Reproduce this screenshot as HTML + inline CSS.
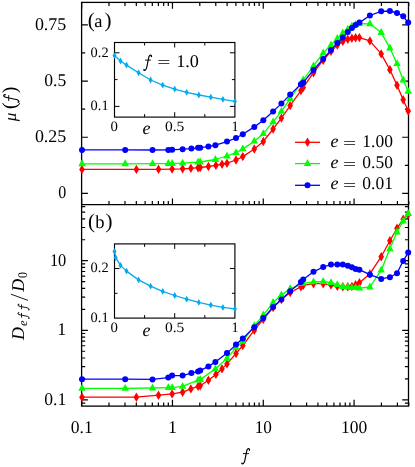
<!DOCTYPE html>
<html><head><meta charset="utf-8"><title>chart</title><style>html,body{margin:0;padding:0;background:#fff}svg{display:block;will-change:transform}svg text{text-rendering:geometricPrecision}</style></head><body>
<svg width="415" height="467" viewBox="0 0 415 467" font-family="'Liberation Serif', serif" fill="#000">
<rect width="415" height="467" fill="#fff"/>
<g>
<rect x="81.60" y="2.40" width="326.90" height="403.70" fill="none" stroke="#000" stroke-width="1.3"/>
<path d="M81.60 204.70L408.50 204.70" stroke="#000" stroke-width="1.30" fill="none"/>
<path d="M81.65 2.40v6.3M81.65 204.70v-6.3M81.65 406.10v-6.3M108.99 2.40v3.6M108.99 204.70v-3.6M108.99 406.10v-3.6M124.98 2.40v3.6M124.98 204.70v-3.6M124.98 406.10v-3.6M136.32 2.40v3.6M136.32 204.70v-3.6M136.32 406.10v-3.6M145.12 2.40v3.6M145.12 204.70v-3.6M145.12 406.10v-3.6M152.31 2.40v3.6M152.31 204.70v-3.6M152.31 406.10v-3.6M158.39 2.40v3.6M158.39 204.70v-3.6M158.39 406.10v-3.6M163.66 2.40v3.6M163.66 204.70v-3.6M163.66 406.10v-3.6M168.30 2.40v3.6M168.30 204.70v-3.6M168.30 406.10v-3.6M172.46 2.40v6.3M172.46 204.70v-6.3M172.46 406.10v-6.3M199.80 2.40v3.6M199.80 204.70v-3.6M199.80 406.10v-3.6M215.79 2.40v3.6M215.79 204.70v-3.6M215.79 406.10v-3.6M227.13 2.40v3.6M227.13 204.70v-3.6M227.13 406.10v-3.6M235.93 2.40v3.6M235.93 204.70v-3.6M235.93 406.10v-3.6M243.12 2.40v3.6M243.12 204.70v-3.6M243.12 406.10v-3.6M249.20 2.40v3.6M249.20 204.70v-3.6M249.20 406.10v-3.6M254.47 2.40v3.6M254.47 204.70v-3.6M254.47 406.10v-3.6M259.11 2.40v3.6M259.11 204.70v-3.6M259.11 406.10v-3.6M263.27 2.40v6.3M263.27 204.70v-6.3M263.27 406.10v-6.3M290.61 2.40v3.6M290.61 204.70v-3.6M290.61 406.10v-3.6M306.60 2.40v3.6M306.60 204.70v-3.6M306.60 406.10v-3.6M317.94 2.40v3.6M317.94 204.70v-3.6M317.94 406.10v-3.6M326.74 2.40v3.6M326.74 204.70v-3.6M326.74 406.10v-3.6M333.93 2.40v3.6M333.93 204.70v-3.6M333.93 406.10v-3.6M340.01 2.40v3.6M340.01 204.70v-3.6M340.01 406.10v-3.6M345.28 2.40v3.6M345.28 204.70v-3.6M345.28 406.10v-3.6M349.92 2.40v3.6M349.92 204.70v-3.6M349.92 406.10v-3.6M354.08 2.40v6.3M354.08 204.70v-6.3M354.08 406.10v-6.3M381.42 2.40v3.6M381.42 204.70v-3.6M381.42 406.10v-3.6M397.41 2.40v3.6M397.41 204.70v-3.6M397.41 406.10v-3.6M408.75 2.40v3.6M408.75 204.70v-3.6M408.75 406.10v-3.6M81.60 193.40h6.3M408.50 193.40h-6.3M81.60 165.31h3.6M408.50 165.31h-3.6M81.60 137.23h6.3M408.50 137.23h-6.3M81.60 109.14h3.6M408.50 109.14h-3.6M81.60 81.05h6.3M408.50 81.05h-6.3M81.60 52.96h3.6M408.50 52.96h-3.6M81.60 24.88h6.3M408.50 24.88h-6.3M81.60 403.08h3.6M408.50 403.08h-3.6M81.60 399.90h6.3M408.50 399.90h-6.3M81.60 378.95h3.6M408.50 378.95h-3.6M81.60 366.69h3.6M408.50 366.69h-3.6M81.60 358.00h3.6M408.50 358.00h-3.6M81.60 351.25h3.6M408.50 351.25h-3.6M81.60 345.74h3.6M408.50 345.74h-3.6M81.60 341.08h3.6M408.50 341.08h-3.6M81.60 337.04h3.6M408.50 337.04h-3.6M81.60 333.48h3.6M408.50 333.48h-3.6M81.60 330.30h6.3M408.50 330.30h-6.3M81.60 309.35h3.6M408.50 309.35h-3.6M81.60 297.09h3.6M408.50 297.09h-3.6M81.60 288.40h3.6M408.50 288.40h-3.6M81.60 281.65h3.6M408.50 281.65h-3.6M81.60 276.14h3.6M408.50 276.14h-3.6M81.60 271.48h3.6M408.50 271.48h-3.6M81.60 267.44h3.6M408.50 267.44h-3.6M81.60 263.88h3.6M408.50 263.88h-3.6M81.60 260.70h6.3M408.50 260.70h-6.3M81.60 239.75h3.6M408.50 239.75h-3.6M81.60 227.49h3.6M408.50 227.49h-3.6M81.60 218.80h3.6M408.50 218.80h-3.6M81.60 212.05h3.6M408.50 212.05h-3.6M81.60 206.54h3.6M408.50 206.54h-3.6" stroke="#000" stroke-width="1.2" fill="none"/>
</g>
<rect x="114.50" y="42.50" width="120.40" height="74.60" fill="#fff" stroke="#000" stroke-width="1.15"/>
<path d="M144.60 42.50v3.0M144.60 117.10v-3.0M174.70 42.50v5.0M174.70 117.10v-5.0M204.80 42.50v3.0M204.80 117.10v-3.0M114.50 52.80h5.0M234.90 52.80h-5.0M114.50 79.60h3.0M234.90 79.60h-3.0M114.50 106.40h5.0M234.90 106.40h-5.0" stroke="#000" stroke-width="1" fill="none"/>
<polyline points="114.5,55.6 120.5,61.0 126.5,65.1 138.6,72.8 150.6,80.0 162.7,85.1 174.7,89.1 186.7,92.3 198.8,95.0 210.8,97.2 222.9,99.3 234.9,101.4" fill="none" stroke="#06a9ec" stroke-width="1.30" stroke-linejoin="round"/>
<path d="M114.5 52.2l2.0 3.4l-2.0 3.4l-2.0 -3.4zM120.5 57.6l2.0 3.4l-2.0 3.4l-2.0 -3.4zM126.5 61.7l2.0 3.4l-2.0 3.4l-2.0 -3.4zM138.6 69.4l2.0 3.4l-2.0 3.4l-2.0 -3.4zM150.6 76.6l2.0 3.4l-2.0 3.4l-2.0 -3.4zM162.7 81.7l2.0 3.4l-2.0 3.4l-2.0 -3.4zM174.7 85.7l2.0 3.4l-2.0 3.4l-2.0 -3.4zM186.7 88.9l2.0 3.4l-2.0 3.4l-2.0 -3.4zM198.8 91.6l2.0 3.4l-2.0 3.4l-2.0 -3.4zM210.8 93.8l2.0 3.4l-2.0 3.4l-2.0 -3.4zM222.9 95.9l2.0 3.4l-2.0 3.4l-2.0 -3.4zM234.9 98.0l2.0 3.4l-2.0 3.4l-2.0 -3.4z" fill="#06a9ec"/>
<rect x="114.50" y="243.90" width="120.40" height="74.20" fill="#fff" stroke="#000" stroke-width="1.15"/>
<path d="M144.60 243.90v3.0M144.60 318.10v-3.0M174.70 243.90v5.0M174.70 318.10v-5.0M204.80 243.90v3.0M204.80 318.10v-3.0M114.50 268.50h5.0M234.90 268.50h-5.0M114.50 293.30h3.0M234.90 293.30h-3.0" stroke="#000" stroke-width="1" fill="none"/>
<polyline points="114.5,251.4 115.7,257.7 120.5,265.4 126.5,271.1 138.6,279.9 150.6,286.2 162.7,291.4 174.7,295.5 186.7,299.2 198.8,302.4 210.8,305.1 222.9,307.4 234.9,308.9" fill="none" stroke="#06a9ec" stroke-width="1.30" stroke-linejoin="round"/>
<path d="M114.5 248.0l2.0 3.4l-2.0 3.4l-2.0 -3.4zM115.7 254.3l2.0 3.4l-2.0 3.4l-2.0 -3.4zM120.5 262.0l2.0 3.4l-2.0 3.4l-2.0 -3.4zM126.5 267.7l2.0 3.4l-2.0 3.4l-2.0 -3.4zM138.6 276.5l2.0 3.4l-2.0 3.4l-2.0 -3.4zM150.6 282.8l2.0 3.4l-2.0 3.4l-2.0 -3.4zM162.7 288.0l2.0 3.4l-2.0 3.4l-2.0 -3.4zM174.7 292.1l2.0 3.4l-2.0 3.4l-2.0 -3.4zM186.7 295.8l2.0 3.4l-2.0 3.4l-2.0 -3.4zM198.8 299.0l2.0 3.4l-2.0 3.4l-2.0 -3.4zM210.8 301.7l2.0 3.4l-2.0 3.4l-2.0 -3.4zM222.9 304.0l2.0 3.4l-2.0 3.4l-2.0 -3.4zM234.9 305.5l2.0 3.4l-2.0 3.4l-2.0 -3.4z" fill="#06a9ec"/>
<polyline points="82.0,169.4 136.4,169.4 158.5,169.3 172.1,169.1 182.6,168.8 190.9,168.3 198.1,167.7 200.2,167.5 208.4,166.5 215.9,165.4 222.0,164.3 227.0,163.2 236.0,160.0 242.8,156.6 254.3,149.0 263.3,141.5 273.1,129.0 281.4,118.1 290.2,105.6 300.9,90.6 303.2,87.6 313.5,72.7 323.2,60.2 331.0,51.4 337.3,45.1 342.8,41.4 347.8,39.3 351.9,38.3 355.6,37.8 359.4,37.6 369.9,40.9 381.2,53.9 389.9,69.7 397.0,85.2 403.2,99.7 408.2,110.9" fill="none" stroke="#ff0000" stroke-width="1.30" stroke-linejoin="round"/>
<path d="M82.0 164.7l2.8 4.7l-2.8 4.7l-2.8 -4.7zM136.4 164.7l2.8 4.7l-2.8 4.7l-2.8 -4.7zM158.5 164.6l2.8 4.7l-2.8 4.7l-2.8 -4.7zM172.1 164.4l2.8 4.7l-2.8 4.7l-2.8 -4.7zM182.6 164.1l2.8 4.7l-2.8 4.7l-2.8 -4.7zM190.9 163.6l2.8 4.7l-2.8 4.7l-2.8 -4.7zM198.1 163.0l2.8 4.7l-2.8 4.7l-2.8 -4.7zM200.2 162.8l2.8 4.7l-2.8 4.7l-2.8 -4.7zM208.4 161.8l2.8 4.7l-2.8 4.7l-2.8 -4.7zM215.9 160.7l2.8 4.7l-2.8 4.7l-2.8 -4.7zM222.0 159.6l2.8 4.7l-2.8 4.7l-2.8 -4.7zM227.0 158.5l2.8 4.7l-2.8 4.7l-2.8 -4.7zM236.0 155.3l2.8 4.7l-2.8 4.7l-2.8 -4.7zM242.8 151.9l2.8 4.7l-2.8 4.7l-2.8 -4.7zM254.3 144.3l2.8 4.7l-2.8 4.7l-2.8 -4.7zM263.3 136.8l2.8 4.7l-2.8 4.7l-2.8 -4.7zM273.1 124.3l2.8 4.7l-2.8 4.7l-2.8 -4.7zM281.4 113.4l2.8 4.7l-2.8 4.7l-2.8 -4.7zM290.2 100.9l2.8 4.7l-2.8 4.7l-2.8 -4.7zM300.9 85.9l2.8 4.7l-2.8 4.7l-2.8 -4.7zM303.2 82.9l2.8 4.7l-2.8 4.7l-2.8 -4.7zM313.5 68.0l2.8 4.7l-2.8 4.7l-2.8 -4.7zM323.2 55.5l2.8 4.7l-2.8 4.7l-2.8 -4.7zM331.0 46.7l2.8 4.7l-2.8 4.7l-2.8 -4.7zM337.3 40.4l2.8 4.7l-2.8 4.7l-2.8 -4.7zM342.8 36.7l2.8 4.7l-2.8 4.7l-2.8 -4.7zM347.8 34.6l2.8 4.7l-2.8 4.7l-2.8 -4.7zM351.9 33.6l2.8 4.7l-2.8 4.7l-2.8 -4.7zM355.6 33.1l2.8 4.7l-2.8 4.7l-2.8 -4.7zM359.4 32.9l2.8 4.7l-2.8 4.7l-2.8 -4.7zM369.9 36.2l2.8 4.7l-2.8 4.7l-2.8 -4.7zM381.2 49.2l2.8 4.7l-2.8 4.7l-2.8 -4.7zM389.9 65.0l2.8 4.7l-2.8 4.7l-2.8 -4.7zM397.0 80.5l2.8 4.7l-2.8 4.7l-2.8 -4.7zM403.2 95.0l2.8 4.7l-2.8 4.7l-2.8 -4.7zM408.2 106.2l2.8 4.7l-2.8 4.7l-2.8 -4.7z" fill="#ff0000"/>
<polyline points="82.0,163.8 125.2,163.8 152.5,163.7 168.3,163.6 172.1,163.5 182.6,163.2 198.1,162.2 200.2,162.0 215.4,159.5 227.0,156.0 236.0,152.7 242.8,148.9 254.3,141.2 263.3,133.7 273.1,121.9 281.4,111.4 290.2,98.6 303.2,80.0 313.5,65.9 323.2,53.0 331.0,45.0 337.3,38.5 342.8,33.0 347.8,29.2 351.9,26.2 355.6,24.7 359.4,23.7 369.9,23.8 381.2,32.6 389.9,48.1 397.0,63.7 403.2,80.1 408.2,91.4" fill="none" stroke="#00ff00" stroke-width="1.30" stroke-linejoin="round"/>
<path d="M82.0 159.3l3.75 6.90l-7.50 0zM125.2 159.3l3.75 6.90l-7.50 0zM152.5 159.2l3.75 6.90l-7.50 0zM168.3 159.1l3.75 6.90l-7.50 0zM172.1 159.0l3.75 6.90l-7.50 0zM182.6 158.7l3.75 6.90l-7.50 0zM198.1 157.7l3.75 6.90l-7.50 0zM200.2 157.5l3.75 6.90l-7.50 0zM215.4 155.0l3.75 6.90l-7.50 0zM227.0 151.5l3.75 6.90l-7.50 0zM236.0 148.2l3.75 6.90l-7.50 0zM242.8 144.4l3.75 6.90l-7.50 0zM254.3 136.7l3.75 6.90l-7.50 0zM263.3 129.2l3.75 6.90l-7.50 0zM273.1 117.4l3.75 6.90l-7.50 0zM281.4 106.9l3.75 6.90l-7.50 0zM290.2 94.1l3.75 6.90l-7.50 0zM303.2 75.5l3.75 6.90l-7.50 0zM313.5 61.4l3.75 6.90l-7.50 0zM323.2 48.5l3.75 6.90l-7.50 0zM331.0 40.5l3.75 6.90l-7.50 0zM337.3 34.0l3.75 6.90l-7.50 0zM342.8 28.5l3.75 6.90l-7.50 0zM347.8 24.7l3.75 6.90l-7.50 0zM351.9 21.7l3.75 6.90l-7.50 0zM355.6 20.2l3.75 6.90l-7.50 0zM359.4 19.2l3.75 6.90l-7.50 0zM369.9 19.3l3.75 6.90l-7.50 0zM381.2 28.1l3.75 6.90l-7.50 0zM389.9 43.6l3.75 6.90l-7.50 0zM397.0 59.2l3.75 6.90l-7.50 0zM403.2 75.6l3.75 6.90l-7.50 0zM408.2 86.9l3.75 6.90l-7.50 0z" fill="#00ff00"/>
<polyline points="82.0,149.9 125.2,149.9 152.5,150.0 168.3,149.9 172.1,149.8 182.6,149.2 191.4,148.6 198.1,147.8 200.2,147.7 208.4,146.6 215.4,145.2 227.0,141.6 236.0,138.0 242.8,134.3 254.3,126.9 263.3,120.2 273.1,111.4 281.4,103.6 290.2,94.6 300.9,84.3 303.2,82.6 313.5,70.0 323.2,59.0 331.0,50.1 337.3,43.1 342.8,37.6 347.8,32.1 351.9,28.1 355.6,25.1 359.4,22.6 369.9,15.5 381.2,11.3 389.9,11.0 397.0,13.0 403.2,16.3 408.2,22.6" fill="none" stroke="#0000ff" stroke-width="1.30" stroke-linejoin="round"/>
<circle cx="82.0" cy="149.9" r="3.0" fill="#0000ff"/>
<circle cx="125.2" cy="149.9" r="3.0" fill="#0000ff"/>
<circle cx="152.5" cy="150.0" r="3.0" fill="#0000ff"/>
<circle cx="168.3" cy="149.9" r="3.0" fill="#0000ff"/>
<circle cx="172.1" cy="149.8" r="3.0" fill="#0000ff"/>
<circle cx="182.6" cy="149.2" r="3.0" fill="#0000ff"/>
<circle cx="191.4" cy="148.6" r="3.0" fill="#0000ff"/>
<circle cx="198.1" cy="147.8" r="3.0" fill="#0000ff"/>
<circle cx="200.2" cy="147.7" r="3.0" fill="#0000ff"/>
<circle cx="208.4" cy="146.6" r="3.0" fill="#0000ff"/>
<circle cx="215.4" cy="145.2" r="3.0" fill="#0000ff"/>
<circle cx="227.0" cy="141.6" r="3.0" fill="#0000ff"/>
<circle cx="236.0" cy="138.0" r="3.0" fill="#0000ff"/>
<circle cx="242.8" cy="134.3" r="3.0" fill="#0000ff"/>
<circle cx="254.3" cy="126.9" r="3.0" fill="#0000ff"/>
<circle cx="263.3" cy="120.2" r="3.0" fill="#0000ff"/>
<circle cx="273.1" cy="111.4" r="3.0" fill="#0000ff"/>
<circle cx="281.4" cy="103.6" r="3.0" fill="#0000ff"/>
<circle cx="290.2" cy="94.6" r="3.0" fill="#0000ff"/>
<circle cx="300.9" cy="84.3" r="3.0" fill="#0000ff"/>
<circle cx="303.2" cy="82.6" r="3.0" fill="#0000ff"/>
<circle cx="313.5" cy="70.0" r="3.0" fill="#0000ff"/>
<circle cx="323.2" cy="59.0" r="3.0" fill="#0000ff"/>
<circle cx="331.0" cy="50.1" r="3.0" fill="#0000ff"/>
<circle cx="337.3" cy="43.1" r="3.0" fill="#0000ff"/>
<circle cx="342.8" cy="37.6" r="3.0" fill="#0000ff"/>
<circle cx="347.8" cy="32.1" r="3.0" fill="#0000ff"/>
<circle cx="351.9" cy="28.1" r="3.0" fill="#0000ff"/>
<circle cx="355.6" cy="25.1" r="3.0" fill="#0000ff"/>
<circle cx="359.4" cy="22.6" r="3.0" fill="#0000ff"/>
<circle cx="369.9" cy="15.5" r="3.0" fill="#0000ff"/>
<circle cx="381.2" cy="11.3" r="3.0" fill="#0000ff"/>
<circle cx="389.9" cy="11.0" r="3.0" fill="#0000ff"/>
<circle cx="397.0" cy="13.0" r="3.0" fill="#0000ff"/>
<circle cx="403.2" cy="16.3" r="3.0" fill="#0000ff"/>
<circle cx="408.2" cy="22.6" r="3.0" fill="#0000ff"/>
<clipPath id="cb"><rect x="0" y="201.7" width="415" height="300"/></clipPath>
<g clip-path="url(#cb)">
<polyline points="82.0,397.2 136.4,397.2 158.5,395.2 172.1,393.9 182.6,392.2 190.9,388.9 198.1,386.4 200.2,385.7 208.4,380.2 215.9,374.4 222.0,368.9 227.0,363.9 236.0,353.5 242.8,345.5 254.3,330.2 263.3,319.4 273.1,307.6 281.4,299.6 290.2,292.6 300.9,286.7 303.2,285.4 313.5,283.7 323.2,283.7 331.0,285.1 337.3,286.3 342.8,286.8 347.8,286.8 351.9,286.5 355.6,284.7 359.4,282.7 369.9,273.9 381.2,256.7 389.9,240.8 397.0,228.3 403.2,219.2 408.2,214.5" fill="none" stroke="#ff0000" stroke-width="1.30" stroke-linejoin="round"/>
<path d="M82.0 392.5l2.8 4.7l-2.8 4.7l-2.8 -4.7zM136.4 392.5l2.8 4.7l-2.8 4.7l-2.8 -4.7zM158.5 390.5l2.8 4.7l-2.8 4.7l-2.8 -4.7zM172.1 389.2l2.8 4.7l-2.8 4.7l-2.8 -4.7zM182.6 387.5l2.8 4.7l-2.8 4.7l-2.8 -4.7zM190.9 384.2l2.8 4.7l-2.8 4.7l-2.8 -4.7zM198.1 381.7l2.8 4.7l-2.8 4.7l-2.8 -4.7zM200.2 381.0l2.8 4.7l-2.8 4.7l-2.8 -4.7zM208.4 375.5l2.8 4.7l-2.8 4.7l-2.8 -4.7zM215.9 369.7l2.8 4.7l-2.8 4.7l-2.8 -4.7zM222.0 364.2l2.8 4.7l-2.8 4.7l-2.8 -4.7zM227.0 359.2l2.8 4.7l-2.8 4.7l-2.8 -4.7zM236.0 348.8l2.8 4.7l-2.8 4.7l-2.8 -4.7zM242.8 340.8l2.8 4.7l-2.8 4.7l-2.8 -4.7zM254.3 325.5l2.8 4.7l-2.8 4.7l-2.8 -4.7zM263.3 314.7l2.8 4.7l-2.8 4.7l-2.8 -4.7zM273.1 302.9l2.8 4.7l-2.8 4.7l-2.8 -4.7zM281.4 294.9l2.8 4.7l-2.8 4.7l-2.8 -4.7zM290.2 287.9l2.8 4.7l-2.8 4.7l-2.8 -4.7zM300.9 282.0l2.8 4.7l-2.8 4.7l-2.8 -4.7zM303.2 280.7l2.8 4.7l-2.8 4.7l-2.8 -4.7zM313.5 279.0l2.8 4.7l-2.8 4.7l-2.8 -4.7zM323.2 279.0l2.8 4.7l-2.8 4.7l-2.8 -4.7zM331.0 280.4l2.8 4.7l-2.8 4.7l-2.8 -4.7zM337.3 281.6l2.8 4.7l-2.8 4.7l-2.8 -4.7zM342.8 282.1l2.8 4.7l-2.8 4.7l-2.8 -4.7zM347.8 282.1l2.8 4.7l-2.8 4.7l-2.8 -4.7zM351.9 281.8l2.8 4.7l-2.8 4.7l-2.8 -4.7zM355.6 280.0l2.8 4.7l-2.8 4.7l-2.8 -4.7zM359.4 278.0l2.8 4.7l-2.8 4.7l-2.8 -4.7zM369.9 269.2l2.8 4.7l-2.8 4.7l-2.8 -4.7zM381.2 252.0l2.8 4.7l-2.8 4.7l-2.8 -4.7zM389.9 236.1l2.8 4.7l-2.8 4.7l-2.8 -4.7zM397.0 223.6l2.8 4.7l-2.8 4.7l-2.8 -4.7zM403.2 214.5l2.8 4.7l-2.8 4.7l-2.8 -4.7zM408.2 209.8l2.8 4.7l-2.8 4.7l-2.8 -4.7z" fill="#ff0000"/>
<polyline points="82.0,388.4 125.2,388.4 152.5,388.0 168.3,387.7 172.1,387.7 182.6,386.4 198.1,380.2 200.2,379.6 215.4,368.9 227.0,358.3 236.0,347.6 242.8,341.4 254.3,325.7 263.3,315.1 273.1,302.6 281.4,295.1 290.2,288.8 303.2,283.3 313.5,281.9 323.2,281.5 331.0,282.7 337.3,284.7 342.8,286.7 347.8,287.2 351.9,287.7 355.6,287.7 359.4,288.2 369.9,287.0 381.2,270.2 389.9,248.8 397.0,232.0 403.2,221.2 408.2,213.7" fill="none" stroke="#00ff00" stroke-width="1.30" stroke-linejoin="round"/>
<path d="M82.0 383.9l3.75 6.90l-7.50 0zM125.2 383.9l3.75 6.90l-7.50 0zM152.5 383.5l3.75 6.90l-7.50 0zM168.3 383.2l3.75 6.90l-7.50 0zM172.1 383.2l3.75 6.90l-7.50 0zM182.6 381.9l3.75 6.90l-7.50 0zM198.1 375.7l3.75 6.90l-7.50 0zM200.2 375.1l3.75 6.90l-7.50 0zM215.4 364.4l3.75 6.90l-7.50 0zM227.0 353.8l3.75 6.90l-7.50 0zM236.0 343.1l3.75 6.90l-7.50 0zM242.8 336.9l3.75 6.90l-7.50 0zM254.3 321.2l3.75 6.90l-7.50 0zM263.3 310.6l3.75 6.90l-7.50 0zM273.1 298.1l3.75 6.90l-7.50 0zM281.4 290.6l3.75 6.90l-7.50 0zM290.2 284.3l3.75 6.90l-7.50 0zM303.2 278.8l3.75 6.90l-7.50 0zM313.5 277.4l3.75 6.90l-7.50 0zM323.2 277.0l3.75 6.90l-7.50 0zM331.0 278.2l3.75 6.90l-7.50 0zM337.3 280.2l3.75 6.90l-7.50 0zM342.8 282.2l3.75 6.90l-7.50 0zM347.8 282.7l3.75 6.90l-7.50 0zM351.9 283.2l3.75 6.90l-7.50 0zM355.6 283.2l3.75 6.90l-7.50 0zM359.4 283.7l3.75 6.90l-7.50 0zM369.9 282.5l3.75 6.90l-7.50 0zM381.2 265.7l3.75 6.90l-7.50 0zM389.9 244.3l3.75 6.90l-7.50 0zM397.0 227.5l3.75 6.90l-7.50 0zM403.2 216.7l3.75 6.90l-7.50 0zM408.2 209.2l3.75 6.90l-7.50 0z" fill="#00ff00"/>
<polyline points="82.0,379.2 125.2,379.2 152.5,379.4 168.3,377.6 172.1,375.6 182.6,375.6 191.4,373.1 198.1,371.4 200.2,370.6 208.4,366.4 215.4,361.9 227.0,353.1 236.0,344.6 242.8,338.5 254.3,327.2 263.3,318.1 273.1,307.1 281.4,299.6 290.2,291.3 300.9,282.1 303.2,279.5 313.5,271.8 323.2,267.0 331.0,264.6 337.3,264.4 342.8,264.4 347.8,265.7 351.9,267.2 355.6,268.9 359.4,269.7 369.9,274.7 381.2,278.9 389.9,277.2 397.0,273.2 403.2,260.9 408.2,252.6" fill="none" stroke="#0000ff" stroke-width="1.30" stroke-linejoin="round"/>
<circle cx="82.0" cy="379.2" r="3.0" fill="#0000ff"/>
<circle cx="125.2" cy="379.2" r="3.0" fill="#0000ff"/>
<circle cx="152.5" cy="379.4" r="3.0" fill="#0000ff"/>
<circle cx="168.3" cy="377.6" r="3.0" fill="#0000ff"/>
<circle cx="172.1" cy="375.6" r="3.0" fill="#0000ff"/>
<circle cx="182.6" cy="375.6" r="3.0" fill="#0000ff"/>
<circle cx="191.4" cy="373.1" r="3.0" fill="#0000ff"/>
<circle cx="198.1" cy="371.4" r="3.0" fill="#0000ff"/>
<circle cx="200.2" cy="370.6" r="3.0" fill="#0000ff"/>
<circle cx="208.4" cy="366.4" r="3.0" fill="#0000ff"/>
<circle cx="215.4" cy="361.9" r="3.0" fill="#0000ff"/>
<circle cx="227.0" cy="353.1" r="3.0" fill="#0000ff"/>
<circle cx="236.0" cy="344.6" r="3.0" fill="#0000ff"/>
<circle cx="242.8" cy="338.5" r="3.0" fill="#0000ff"/>
<circle cx="254.3" cy="327.2" r="3.0" fill="#0000ff"/>
<circle cx="263.3" cy="318.1" r="3.0" fill="#0000ff"/>
<circle cx="273.1" cy="307.1" r="3.0" fill="#0000ff"/>
<circle cx="281.4" cy="299.6" r="3.0" fill="#0000ff"/>
<circle cx="290.2" cy="291.3" r="3.0" fill="#0000ff"/>
<circle cx="300.9" cy="282.1" r="3.0" fill="#0000ff"/>
<circle cx="303.2" cy="279.5" r="3.0" fill="#0000ff"/>
<circle cx="313.5" cy="271.8" r="3.0" fill="#0000ff"/>
<circle cx="323.2" cy="267.0" r="3.0" fill="#0000ff"/>
<circle cx="331.0" cy="264.6" r="3.0" fill="#0000ff"/>
<circle cx="337.3" cy="264.4" r="3.0" fill="#0000ff"/>
<circle cx="342.8" cy="264.4" r="3.0" fill="#0000ff"/>
<circle cx="347.8" cy="265.7" r="3.0" fill="#0000ff"/>
<circle cx="351.9" cy="267.2" r="3.0" fill="#0000ff"/>
<circle cx="355.6" cy="268.9" r="3.0" fill="#0000ff"/>
<circle cx="359.4" cy="269.7" r="3.0" fill="#0000ff"/>
<circle cx="369.9" cy="274.7" r="3.0" fill="#0000ff"/>
<circle cx="381.2" cy="278.9" r="3.0" fill="#0000ff"/>
<circle cx="389.9" cy="277.2" r="3.0" fill="#0000ff"/>
<circle cx="397.0" cy="273.2" r="3.0" fill="#0000ff"/>
<circle cx="403.2" cy="260.9" r="3.0" fill="#0000ff"/>
<circle cx="408.2" cy="252.6" r="3.0" fill="#0000ff"/>
</g>
<path d="M295 142.3H320" stroke="#ff0000" stroke-width="1.3"/>
<path d="M307.5 137.6l2.8 4.7l-2.8 4.7l-2.8 -4.7z" fill="#ff0000"/>
<path d="M295 163.6H320" stroke="#00ff00" stroke-width="1.3"/>
<path d="M307.5 159.1l3.75 6.90l-7.50 0z" fill="#00ff00"/>
<path d="M295 185.3H320" stroke="#0000ff" stroke-width="1.3"/>
<circle cx="307.5" cy="185.3" r="3.0" fill="#0000ff"/>
<text x="330.4" y="146.6" font-size="18.0" font-style="italic">e</text>
<text x="343.0" y="147.9" font-size="15.5" textLength="13.2" lengthAdjust="spacingAndGlyphs">=</text>
<text x="362.3" y="146.6" font-size="17.9" textLength="30.6" lengthAdjust="spacingAndGlyphs">1.00</text>
<text x="330.4" y="167.6" font-size="18.0" font-style="italic">e</text>
<text x="343.0" y="168.9" font-size="15.5" textLength="13.2" lengthAdjust="spacingAndGlyphs">=</text>
<text x="362.3" y="167.6" font-size="17.9" textLength="30.6" lengthAdjust="spacingAndGlyphs">0.50</text>
<text x="330.4" y="189.0" font-size="18.0" font-style="italic">e</text>
<text x="343.0" y="190.3" font-size="15.5" textLength="13.2" lengthAdjust="spacingAndGlyphs">=</text>
<text x="362.3" y="189.0" font-size="17.9" textLength="30.6" lengthAdjust="spacingAndGlyphs">0.01</text>
<text x="66.3" y="29.8" font-size="17.9" text-anchor="end" textLength="31.4" lengthAdjust="spacingAndGlyphs">0.75</text>
<text x="66.3" y="86.0" font-size="17.9" text-anchor="end" textLength="22.0" lengthAdjust="spacingAndGlyphs">0.5</text>
<text x="66.3" y="142.1" font-size="17.9" text-anchor="end" textLength="31.4" lengthAdjust="spacingAndGlyphs">0.25</text>
<text x="66.3" y="198.3" font-size="17.9" text-anchor="end" textLength="8.0" lengthAdjust="spacingAndGlyphs">0</text>
<text x="66.3" y="265.6" font-size="17.9" text-anchor="end" textLength="16.4" lengthAdjust="spacingAndGlyphs">10</text>
<text x="66.3" y="335.2" font-size="17.9" text-anchor="end">1</text>
<text x="66.3" y="404.8" font-size="17.9" text-anchor="end" textLength="22.0" lengthAdjust="spacingAndGlyphs">0.1</text>
<text x="81.7" y="433.0" font-size="17.9" text-anchor="middle" textLength="22.0" lengthAdjust="spacingAndGlyphs">0.1</text>
<text x="172.5" y="433.0" font-size="17.9" text-anchor="middle">1</text>
<text x="263.3" y="433.0" font-size="17.9" text-anchor="middle" textLength="17.2" lengthAdjust="spacingAndGlyphs">10</text>
<text x="354.1" y="433.0" font-size="17.9" text-anchor="middle" textLength="26.2" lengthAdjust="spacingAndGlyphs">100</text>
<g transform="translate(240.70 460.80) scale(1.000)" fill="none" stroke="#000" stroke-linecap="round" stroke-linejoin="round"><path d="M8.8 -11.0C8.9 -12.5 7.1 -12.7 6.4 -11.0C5.8 -9.5 4.5 -1.6 3.9 0.6C3.4 2.5 2.4 3.3 1.4 2.9" stroke-width="1.15"/><path d="M2.7 -7.2H7.9" stroke-width="0.90"/><circle cx="8.7" cy="-10.9" r="0.75" fill="#000" stroke="none"/><circle cx="1.3" cy="2.4" r="0.8" fill="#000" stroke="none"/></g>
<text x="87.8" y="26.8" font-size="21.0">(</text>
<text x="94.3" y="26.5" font-size="18.5">a</text>
<text x="104.6" y="26.8" font-size="21.0">)</text>
<text x="88.1" y="227.8" font-size="21.0">(</text>
<text x="95.3" y="227.9" font-size="18.5">b</text>
<text x="105.4" y="227.8" font-size="21.0">)</text>
<text x="108.6" y="56.5" font-size="14.3" text-anchor="end" textLength="18.0" lengthAdjust="spacingAndGlyphs">0.2</text>
<text x="108.6" y="110.0" font-size="14.3" text-anchor="end" textLength="18.0" lengthAdjust="spacingAndGlyphs">0.1</text>
<text x="108.6" y="272.2" font-size="14.3" text-anchor="end" textLength="18.0" lengthAdjust="spacingAndGlyphs">0.2</text>
<text x="108.6" y="321.7" font-size="14.3" text-anchor="end" textLength="18.0" lengthAdjust="spacingAndGlyphs">0.1</text>
<text x="114.2" y="131.1" font-size="14.3" text-anchor="middle" textLength="7.4" lengthAdjust="spacingAndGlyphs">0</text>
<text x="174.6" y="131.1" font-size="14.3" text-anchor="middle" textLength="19.4" lengthAdjust="spacingAndGlyphs">0.5</text>
<text x="235.0" y="131.1" font-size="14.3" text-anchor="middle">1</text>
<text x="114.2" y="332.3" font-size="14.3" text-anchor="middle" textLength="7.4" lengthAdjust="spacingAndGlyphs">0</text>
<text x="174.6" y="332.3" font-size="14.3" text-anchor="middle" textLength="19.4" lengthAdjust="spacingAndGlyphs">0.5</text>
<text x="235.0" y="332.3" font-size="14.3" text-anchor="middle">1</text>
<text x="146.4" y="134.3" font-size="18.0" text-anchor="middle" font-style="italic">e</text>
<text x="146.4" y="336.0" font-size="18.0" text-anchor="middle" font-style="italic">e</text>
<g transform="translate(142.70 67.30) scale(1.000)" fill="none" stroke="#000" stroke-linecap="round" stroke-linejoin="round"><path d="M8.8 -11.0C8.9 -12.5 7.1 -12.7 6.4 -11.0C5.8 -9.5 4.5 -1.6 3.9 0.6C3.4 2.5 2.4 3.3 1.4 2.9" stroke-width="1.15"/><path d="M2.7 -7.2H7.9" stroke-width="0.90"/><circle cx="8.7" cy="-10.9" r="0.75" fill="#000" stroke="none"/><circle cx="1.3" cy="2.4" r="0.8" fill="#000" stroke="none"/></g>
<text x="157.3" y="67.3" font-size="15.5" textLength="13.3" lengthAdjust="spacingAndGlyphs">=</text>
<text x="176.2" y="66.8" font-size="17.9" textLength="22.7" lengthAdjust="spacingAndGlyphs">1.0</text>
<g font-size="20"><text transform="translate(15.7 109.0) rotate(-90)">(</text><text transform="translate(15.7 93.2) rotate(-90)">)</text><text transform="translate(15.9 121.2) rotate(-90)" font-size="17.2" font-style="italic">μ</text></g>
<g transform="translate(15.90 103.40) rotate(-90) scale(1.000)" fill="none" stroke="#000" stroke-linecap="round" stroke-linejoin="round"><path d="M8.8 -11.0C8.9 -12.5 7.1 -12.7 6.4 -11.0C5.8 -9.5 4.5 -1.6 3.9 0.6C3.4 2.5 2.4 3.3 1.4 2.9" stroke-width="1.15"/><path d="M2.7 -7.2H7.9" stroke-width="0.90"/><circle cx="8.7" cy="-10.9" r="0.75" fill="#000" stroke="none"/><circle cx="1.3" cy="2.4" r="0.8" fill="#000" stroke="none"/></g>
<g transform="translate(23.5 340.1) rotate(-90)" font-style="italic"><text x="0" y="0" font-size="18">D</text><text x="14.0" y="3.8" font-size="12.5">e</text><path d="M39.7 4.5L46.0 -12.7" stroke="#000" stroke-width="0.9"/><text x="48.4" y="0" font-size="18">D</text><text x="62.2" y="3.8" font-size="13.3" font-style="normal" textLength="6.0" lengthAdjust="spacingAndGlyphs">0</text></g>
<g transform="translate(26.95 319.30) rotate(-90) scale(0.750)" fill="none" stroke="#000" stroke-linecap="round" stroke-linejoin="round"><path d="M8.8 -11.0C8.9 -12.5 7.1 -12.7 6.4 -11.0C5.8 -9.5 4.5 -1.6 3.9 0.6C3.4 2.5 2.4 3.3 1.4 2.9" stroke-width="1.27"/><path d="M2.7 -7.2H7.9" stroke-width="1.20"/><circle cx="8.7" cy="-10.9" r="0.75" fill="#000" stroke="none"/><circle cx="1.3" cy="2.4" r="0.8" fill="#000" stroke="none"/></g>
<g transform="translate(26.95 310.80) rotate(-90) scale(0.750)" fill="none" stroke="#000" stroke-linecap="round" stroke-linejoin="round"><path d="M8.8 -11.0C8.9 -12.5 7.1 -12.7 6.4 -11.0C5.8 -9.5 4.5 -1.6 3.9 0.6C3.4 2.5 2.4 3.3 1.4 2.9" stroke-width="1.27"/><path d="M2.7 -7.2H7.9" stroke-width="1.20"/><circle cx="8.7" cy="-10.9" r="0.75" fill="#000" stroke="none"/><circle cx="1.3" cy="2.4" r="0.8" fill="#000" stroke="none"/></g>
</svg>
</body></html>
